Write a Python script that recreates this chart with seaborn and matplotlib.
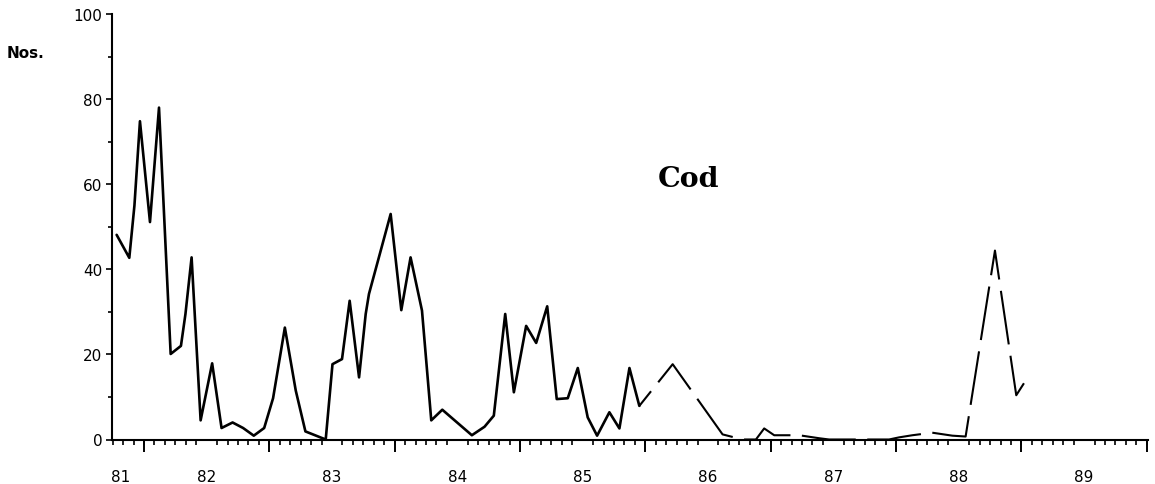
import numpy as np
import pandas as pd
import matplotlib
matplotlib.use("Agg")
import matplotlib.pyplot as plt
import seaborn as sns

# ---- data: sampling dates (decimal years) and numbers of cod ----
solid_years = [81.782, 81.883, 81.924, 81.968, 82.048, 82.120, 82.213, 82.295, 82.331, 82.380,
               82.452, 82.544, 82.619, 82.707, 82.791, 82.876, 82.959, 83.030, 83.124, 83.211,
               83.288, 83.450, 83.504, 83.580, 83.641, 83.716, 83.769, 83.795, 83.968, 84.053,
               84.127, 84.218, 84.292, 84.380, 84.616, 84.717, 84.791, 84.882, 84.951, 85.049,
               85.129, 85.217, 85.293, 85.381, 85.461, 85.540, 85.615, 85.713, 85.793, 85.873, 85.952]
solid_nos = [48.1, 42.7, 55.0, 74.8, 51.1, 78.0, 20.1, 22.0, 29.5, 42.8,
             4.5, 17.9, 2.7, 4.0, 2.7, 0.9, 2.7, 9.7, 26.3, 11.5,
             1.9, 0.0, 17.7, 18.9, 32.6, 14.6, 29.5, 34.2, 53.0, 30.4,
             42.8, 30.3, 4.5, 7.0, 1.0, 3.0, 5.6, 29.5, 11.1, 26.7,
             22.7, 31.3, 9.5, 9.7, 16.8, 5.2, 0.9, 6.4, 2.6, 16.8, 7.9]

dashed_years = [85.952, 86.218, 86.616, 86.709, 86.789, 86.882, 86.948, 87.028, 87.227, 87.386,
                87.466, 87.944, 88.024, 88.130, 88.289, 88.449, 88.555, 88.789, 88.959, 89.046]
dashed_nos = [7.9, 17.7, 1.2, 0.5, 0.0, 0.0, 2.6, 1.0, 1.0, 0.3,
              0.0, 0.0, 0.5, 1.0, 1.6, 0.9, 0.7, 44.4, 10.4, 14.4]

year_labels = ["81", "82", "83", "84", "85", "86", "87", "88", "89"]
year_label_pos = [81.817, 82.5, 83.5, 84.5, 85.5, 86.5, 87.5, 88.5, 89.5]
year_starts = [82, 83, 84, 85, 86, 87, 88, 89, 90]
y_major = [0, 20, 40, 60, 80, 100]
y_minor = [10, 30, 50, 70, 90]

solid_df = pd.DataFrame({"year": solid_years, "nos": solid_nos})
dashed_df = pd.DataFrame({"year": dashed_years, "nos": dashed_nos})

sns.set_style("ticks")
plt.rcParams["font.family"] = ["DejaVu Sans"]
plt.rcParams["text.color"] = "black"

fig = plt.figure(figsize=(11.55, 4.85), dpi=100)
ax = fig.add_axes([112 / 1155, 44.5 / 485, 1036 / 1155, 425.5 / 485])

sns.lineplot(data=solid_df, x="year", y="nos", ax=ax, color="black",
             lw=1.9, estimator=None, sort=False, clip_on=False)
sns.lineplot(data=dashed_df, x="year", y="nos", ax=ax, color="black",
             lw=1.5, estimator=None, sort=False, clip_on=False,
             linestyle=(17, (26, 5.5)))

ax.set_xlim(81.745, 90.01)
ax.set_ylim(0, 100)
ax.set_xlabel("")
ax.set_ylabel("")

for s in ["top", "right"]:
    ax.spines[s].set_visible(False)
for s in ["left", "bottom"]:
    ax.spines[s].set_linewidth(1.5)
    ax.spines[s].set_color("black")

# y ticks
ax.set_yticks(y_major)
ax.set_yticks(y_minor, minor=True)
ax.tick_params(axis="y", which="major", direction="out", length=4.5, width=1.2,
               pad=2.5, labelsize=11, colors="black")
ax.tick_params(axis="y", which="minor", direction="out", length=3, width=1.2, color="black")

# x ticks: year labels (no tick marks), monthly minor ticks
ax.set_xticks(year_label_pos)
ax.set_xticklabels(year_labels)
ax.set_xticks(np.arange(81.75, 90.01, 1 / 12), minor=True)
ax.tick_params(axis="x", which="major", length=0, pad=21, labelsize=11, colors="black")
ax.tick_params(axis="x", which="minor", direction="out", length=3.6, width=1.2, color="black")

# long ticks at the start of each year
sec = ax.secondary_xaxis("bottom")
sec.set_xticks(year_starts)
sec.tick_params(axis="x", direction="out", length=8.5, width=1.4, labelbottom=False, color="black")
sec.spines["bottom"].set_visible(False)

ax.text(0.556, 0.596, "Cod", transform=ax.transAxes, ha="center", va="baseline",
        fontsize=20.5, fontweight="bold", family="DejaVu Serif", color="black")
fig.text(7 / 1155, (485 - 58) / 485, "Nos.", ha="left", va="baseline",
         fontsize=11, fontweight="bold", color="black")

fig.savefig("out.png", dpi=100, facecolor="white")
